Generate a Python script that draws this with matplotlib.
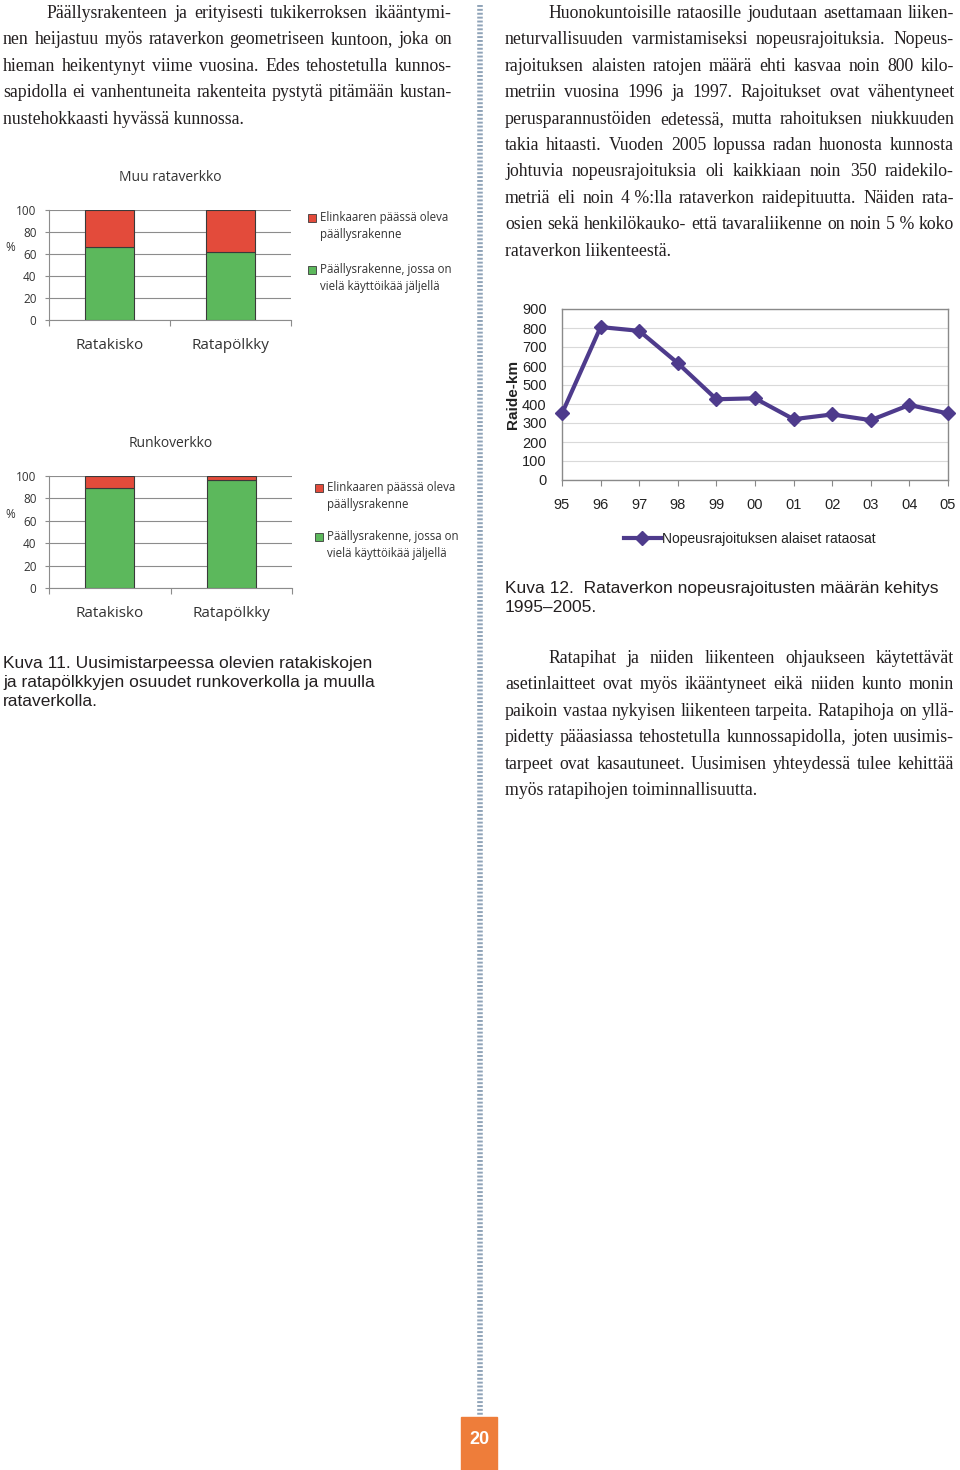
import matplotlib
matplotlib.use('Agg')
import matplotlib.pyplot as plt
from matplotlib.patches import Rectangle
from matplotlib.lines import Line2D

W, H = 960, 1470

# --- data ---
bar_categories = ['Ratakisko', 'Ratapölkky']
muu_ok = [66, 62]          # päällysrakenne, jossa on vielä käyttöikää jäljellä (%)
runko_ok = [89, 96]
muu_end = [100 - v for v in muu_ok]
runko_end = [100 - v for v in runko_ok]

years = ['95', '96', '97', '98', '99', '00', '01', '02', '03', '04', '05']
raide_km = [350, 805, 785, 615, 425, 430, 320, 345, 315, 395, 350]

legend_end = 'Elinkaaren päässä oleva\npäällysrakenne'
legend_ok = 'Päällysrakenne, jossa on\nvielä käyttöikää jäljellä'

GREEN = '#5cb85c'
RED = '#e34b3b'
PURPLE = '#4e3b8c'
TXT = '#231f20'

fig = plt.figure(figsize=(W / 100, H / 100), dpi=100)
fig.patch.set_facecolor('white')


def px_axes(x0, y0, x1, y1):
    return fig.add_axes([x0 / W, 1 - y1 / H, (x1 - x0) / W, (y1 - y0) / H])


def put_lines(lines, x0, x1, y0, dy, indent, size=12.8, family='Liberation Serif'):
    # justified paragraph, last line left aligned
    renderer = fig.canvas.get_renderer()
    for i, line in enumerate(lines):
        yb = 1 - (y0 + 5 + i * dy) / H
        start = x0 + (indent if i == 0 else 0)
        if i == len(lines) - 1:
            fig.text(start / W, yb, line, fontsize=size, family=family,
                     color=TXT, va='baseline')
            continue
        words = line.split(' ')
        arts = [fig.text(0, yb, w, fontsize=size, family=family, color=TXT,
                         va='baseline') for w in words]
        widths = [a.get_window_extent(renderer).width for a in arts]
        gap = (x1 - start - sum(widths)) / (len(words) - 1)
        x = start
        for a, w in zip(arts, widths):
            a.set_x(x / W)
            x += w + gap


# --- body text ---
put_lines([
    'Päällysrakenteen ja erityisesti tukikerroksen ikääntymi-',
    'nen heijastuu myös rataverkon geometriseen kuntoon, joka on',
    'hieman heikentynyt viime vuosina. Edes tehostetulla kunnos-',
    'sapidolla ei vanhentuneita rakenteita pystytä pitämään kustan-',
    'nustehokkaasti hyvässä kunnossa.',
], 3, 452, 13, 26.4, 43)

put_lines([
    'Huonokuntoisille rataosille joudutaan asettamaan liiken-',
    'neturvallisuuden varmistamiseksi nopeusrajoituksia. Nopeus-',
    'rajoituksen alaisten ratojen määrä ehti kasvaa noin 800 kilo-',
    'metriin vuosina 1996 ja 1997. Rajoitukset ovat vähentyneet',
    'perusparannustöiden edetessä, mutta rahoituksen niukkuuden',
    'takia hitaasti. Vuoden 2005 lopussa radan huonosta kunnosta',
    'johtuvia nopeusrajoituksia oli kaikkiaan noin 350 raidekilo-',
    'metriä eli noin 4\u00a0%:lla rataverkon raidepituutta. Näiden rata-',
    'osien sekä henkilökauko- että tavaraliikenne on noin 5\u00a0% koko',
    'rataverkon liikenteestä.',
], 505, 954, 13, 26.4, 43)

put_lines([
    'Ratapihat ja niiden liikenteen ohjaukseen käytettävät',
    'asetinlaitteet ovat myös ikääntyneet eikä niiden kunto monin',
    'paikoin vastaa nykyisen liikenteen tarpeita. Ratapihoja on yllä-',
    'pidetty pääasiassa tehostetulla kunnossapidolla, joten uusimis-',
    'tarpeet ovat kasautuneet. Uusimisen yhteydessä tulee kehittää',
    'myös ratapihojen toiminnallisuutta.',
], 505, 954, 658, 26.4, 43)

# --- captions ---
fig.text(3 / W, 1 - 656 / H,
         'Kuva 11. Uusimistarpeessa olevien ratakiskojen\n'
         'ja ratapölkkyjen osuudet runkoverkolla ja muulla\nrataverkolla.',
         fontsize=12.5, family='Liberation Sans', color=TXT, va='top',
         linespacing=1.35)
fig.text(505 / W, 1 - 581 / H,
         'Kuva 12.  Rataverkon nopeusrajoitusten määrän kehitys\n1995–2005.',
         fontsize=12.5, family='Liberation Sans', color=TXT, va='top',
         linespacing=1.35)


# --- stacked bar charts ---
def legend_entry(x, y, color, label):
    # square aligned with the first text line
    fig.add_artist(Rectangle(((x) / W, 1 - (y + 4) / H), 8 / W, 8 / H,
                             facecolor=color, edgecolor='#3a3a3a', linewidth=0.6,
                             transform=fig.transFigure))
    fig.text((x + 12) / W, 1 - (y - 7) / H, label, fontsize=8.3, family='Open Sans',
             color='#333333', va='top', linespacing=1.4)


def bar_chart(box, title, ok, end, leg_x, leg_y, leg_gap):
    ax = px_axes(*box)
    xs = range(len(bar_categories))
    ax.bar(xs, ok, width=0.4, color=GREEN, edgecolor='#3a3a3a', linewidth=0.8, zorder=3)
    ax.bar(xs, end, bottom=ok, width=0.4, color=RED, edgecolor='#3a3a3a', linewidth=0.8, zorder=3)
    ax.set_xlim(-0.5, 1.5)
    ax.set_ylim(0, 100)
    ax.set_yticks(range(0, 101, 20))
    ax.yaxis.grid(True, color='#8c8c8c', linewidth=0.8, zorder=0)
    ax.set_xticks(list(xs))
    ax.set_xticklabels(bar_categories, fontsize=11, family='Open Sans', color='#333333')
    ax.set_xticks([-0.5, 0.5, 1.5], minor=True)
    ax.tick_params(axis='x', which='major', length=0, pad=13)
    ax.tick_params(axis='x', which='minor', length=4, color='#8c8c8c', width=0.8)
    ax.tick_params(axis='y', length=3, color='#8c8c8c', width=0.8, pad=6,
                   labelsize=8.5, labelcolor='#333333')
    for lab in ax.get_yticklabels():
        lab.set_family('Open Sans')
    for s in ['top', 'right']:
        ax.spines[s].set_visible(False)
    for s in ['left', 'bottom']:
        ax.spines[s].set_color('#8c8c8c')
        ax.spines[s].set_linewidth(0.8)
    ax.set_title(title, fontsize=10, family='Open Sans', color='#333333', pad=21)
    ax.set_ylabel('%', rotation=0, fontsize=8.5, family='Open Sans', color='#333333')
    ax.yaxis.set_label_coords(-0.16, 0.6)
    legend_entry(leg_x, leg_y, RED, legend_end)
    legend_entry(leg_x, leg_y + leg_gap, GREEN, legend_ok)
    return ax


bar_chart((49, 210, 291, 320), 'Muu rataverkko', muu_ok, muu_end, 308, 218, 52)
bar_chart((49, 476, 292, 588), 'Runkoverkko', runko_ok, runko_end, 315, 488, 49)

# --- line chart ---
ax3 = px_axes(562, 309, 948, 480)
ax3.plot(range(len(years)), raide_km, color=PURPLE, linewidth=3, marker='D',
         markersize=7, markerfacecolor=PURPLE, markeredgecolor=PURPLE,
         label='Nopeusrajoituksen alaiset rataosat', clip_on=False, zorder=3)
ax3.set_xlim(0, len(years) - 1)
ax3.set_ylim(0, 900)
ax3.set_yticks(range(0, 901, 100))
ax3.set_xticks(range(len(years)))
ax3.set_xticklabels(years)
ax3.yaxis.grid(True, color='#d9d9d9', linewidth=0.8, zorder=0)
ax3.tick_params(axis='x', length=4, color='#888888', pad=9, labelsize=10.5)
ax3.tick_params(axis='y', length=0, pad=11, labelsize=10.5)
for lab in ax3.get_xticklabels() + ax3.get_yticklabels():
    lab.set_family('Liberation Sans')
    lab.set_color('#222222')
for s in ax3.spines.values():
    s.set_color('#8a8a8a')
    s.set_linewidth(1)
ax3.set_ylabel('Raide-km', fontsize=11, family='Liberation Sans', fontweight='bold',
               color='#222222')
ax3.yaxis.set_label_coords(-0.11, 0.5)
ax3.legend(loc='center', bbox_to_anchor=(750 / W, 1 - 539 / H), bbox_transform=fig.transFigure,
           frameon=False, prop={'family': 'Liberation Sans', 'size': 10},
           handlelength=2.6, handletextpad=0.1, borderpad=0, labelcolor='#222222')

# --- column separator and page number ---
fig.add_artist(Line2D([480 / W, 480 / W], [1 - 5 / H, 1 - 1415 / H], color='#8fa3b8',
                      linewidth=4, dashes=(0.35, 0.35)))
fig.add_artist(Rectangle((461 / W, 0), 36 / W, 53 / H, color='#ee7d3a',
                         transform=fig.transFigure))
fig.text(479 / W, 1 - 1440 / H, '20', fontsize=13, family='Liberation Sans',
         fontweight='bold', color='white', ha='center', va='center')

fig.savefig('out.png', dpi=100)
